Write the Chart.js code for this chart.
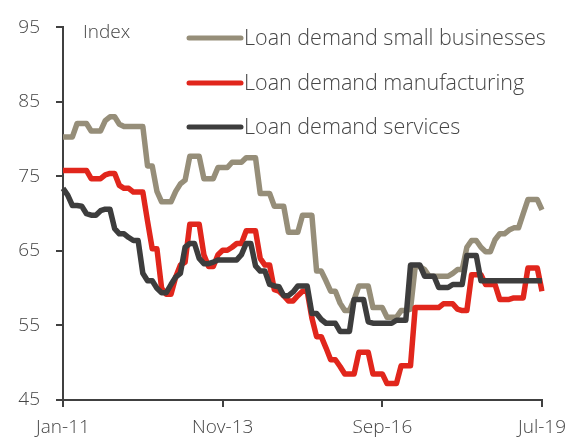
<!DOCTYPE html>
<html>
<head>
<meta charset="utf-8">
<script src="https://cdn.jsdelivr.net/npm/chart.js@4.4.1/dist/chart.umd.min.js"></script>
<style>
  body { margin: 0; background: #fff; }
  #wrap { width: 575px; height: 438px; position: relative; }
</style>
</head>
<body>
<div id="wrap"><canvas id="loanchart"></canvas></div>
<script>
// monthly index values, Jan-11 .. Jul-19
var smallBiz = [
  80.3, 80.3, 80.3, 82.1, 82.1, 82.1, 81.1, 81.1, 81.1, 82.5, 83.0, 83.0,
  82.0, 81.7, 81.7, 81.7, 81.7, 81.7, 76.4, 76.4, 73.0, 71.6, 71.6, 71.6,
  73.0, 74.0, 74.5, 77.7, 77.7, 77.7, 74.7, 74.7, 74.7, 76.2, 76.2, 76.2,
  76.9, 76.9, 76.9, 77.5, 77.5, 77.5, 72.7, 72.7, 72.7, 71.0, 71.0, 71.0,
  67.5, 67.5, 67.5, 69.8, 69.8, 69.8, 62.3, 62.3, 61.0, 59.6, 59.6, 58.0,
  57.0, 57.0, 58.5, 60.3, 60.3, 60.3, 57.4, 57.4, 57.4, 56.1, 56.1, 56.1,
  57.0, 57.0, 57.2, 62.9, 62.9, 62.5, 61.6, 61.6, 61.6, 61.6, 61.6, 62.0,
  62.5, 62.5, 65.5, 66.4, 66.4, 65.5, 64.9, 64.9, 66.5, 67.3, 67.3, 67.8,
  68.1, 68.1, 70.0, 71.9, 71.9, 71.9, 70.5
];
var manufacturing = [
  75.8, 75.8, 75.8, 75.8, 75.8, 75.8, 74.7, 74.7, 74.7, 75.2, 75.4, 75.4,
  73.8, 73.4, 73.4, 72.9, 72.9, 72.9, 69.0, 65.3, 65.3, 60.0, 59.2, 59.2,
  61.5, 63.1, 63.5, 68.6, 68.6, 68.6, 64.5, 62.9, 62.9, 64.5, 65.1, 65.1,
  65.5, 66.0, 66.0, 67.7, 67.7, 67.7, 64.0, 63.1, 63.1, 59.8, 59.6, 59.0,
  58.3, 58.3, 59.0, 59.6, 59.6, 56.0, 53.5, 53.5, 52.0, 50.4, 50.4, 49.5,
  48.5, 48.5, 48.5, 51.4, 51.4, 51.4, 48.5, 48.5, 48.5, 47.2, 47.2, 47.2,
  49.6, 49.6, 49.6, 57.4, 57.4, 57.4, 57.4, 57.4, 57.4, 57.9, 57.9, 57.9,
  57.2, 57.0, 57.0, 61.8, 61.8, 61.8, 60.5, 60.5, 60.5, 58.5, 58.5, 58.5,
  58.7, 58.7, 58.7, 62.7, 62.7, 62.7, 59.6
];
var services = [
  73.4, 72.5, 71.1, 71.1, 71.0, 70.0, 69.8, 69.8, 70.4, 70.6, 70.6, 68.0,
  67.3, 67.3, 66.8, 66.4, 66.4, 62.0, 61.0, 61.0, 60.0, 59.4, 59.4, 60.5,
  61.5, 62.0, 65.5, 66.0, 66.0, 64.0, 63.3, 63.3, 63.5, 63.8, 63.8, 63.8,
  63.8, 63.8, 64.5, 66.0, 66.0, 63.0, 62.3, 62.3, 60.5, 60.3, 60.2, 59.0,
  59.0, 59.5, 60.3, 60.3, 60.3, 56.6, 56.6, 55.8, 55.3, 55.3, 55.3, 54.2,
  54.2, 54.2, 58.5, 58.5, 58.5, 55.5, 55.3, 55.3, 55.3, 55.3, 55.3, 55.7,
  55.7, 55.7, 63.1, 63.1, 63.1, 61.6, 61.6, 61.6, 60.1, 60.1, 60.1, 60.5,
  60.5, 60.5, 64.4, 64.4, 64.4, 61.0, 61.0, 61.0, 61.0, 61.0, 61.0, 61.0,
  61.0, 61.0, 61.0, 61.0, 61.0, 61.0, 61.0
];
var seriesNames = ['Loan demand small businesses', 'Loan demand manufacturing', 'Loan demand services'];
var tickMonths = ['Jan-11', 'Nov-13', 'Sep-16', 'Jul-19'];
var yTicks = [45, 55, 65, 75, 85, 95];

var monthNames = ['Jan','Feb','Mar','Apr','May','Jun','Jul','Aug','Sep','Oct','Nov','Dec'];
var labels = [];
for (var i = 0; i < smallBiz.length; i++) {
  labels.push(monthNames[i % 12] + '-' + (11 + Math.floor(i / 12)));
}

var FONT = "'Open Sans', 'DejaVu Sans', sans-serif";
var TEXT = '#464646';
var AXIS = '#404040';

// legend + unit label drawn inside the plot area
var insideLegend = {
  id: 'insideLegend',
  afterDraw: function(chart) {
    var c = chart.ctx;
    c.save();
    c.font = '300 19px ' + FONT;
    c.fillStyle = TEXT;
    c.textBaseline = 'middle';
    c.fillText('Index', 83, 33);
    var rows = [38, 83, 127];
    chart.data.datasets.forEach(function(ds, k) {
      c.strokeStyle = ds.borderColor;
      c.lineWidth = 5;
      c.lineCap = 'round';
      c.beginPath();
      c.moveTo(189, rows[k]);
      c.lineTo(241, rows[k]);
      c.stroke();
      c.font = '300 21.5px ' + FONT;
      c.fillStyle = TEXT;
      c.fillText(ds.label, 244, rows[k] + 1);
    });
    c.restore();
  }
};

var ctx = document.getElementById('loanchart').getContext('2d');
var loanchart = new Chart(ctx, {
  type: 'line',
  data: {
    labels: labels,
    datasets: [{
      label: seriesNames[0],
      data: smallBiz,
      borderColor: '#968e79',
      order: 3
    }, {
      label: seriesNames[1],
      data: manufacturing,
      borderColor: '#e1261c',
      order: 2
    }, {
      label: seriesNames[2],
      data: services,
      borderColor: '#3d3d3d',
      order: 1
    }]
  },
  options: {
    responsive: true,
    maintainAspectRatio: false,
    animation: false,
    layout: { padding: { top: 20, right: 30, left: 0, bottom: 0 } },
    elements: {
      point: { radius: 0 },
      line: { borderWidth: 5.5, tension: 0, fill: false, borderJoinStyle: 'round', borderCapStyle: 'butt' }
    },
    plugins: {
      legend: { display: false },
      tooltip: { enabled: false }
    },
    scales: {
      x: {
        type: 'category',
        offset: false,
        afterBuildTicks: function(axis) {
          axis.ticks = axis.ticks.filter(function(t) {
            return tickMonths.indexOf(labels[t.value]) >= 0;
          });
        },
        afterFit: function(axis) { axis.height = 38; },
        border: { color: AXIS, width: 2 },
        grid: { drawOnChartArea: false, tickLength: 7, color: AXIS, lineWidth: 2 },
        ticks: {
          autoSkip: false, maxRotation: 0, padding: 9,
          color: TEXT, font: { family: FONT, size: 19, weight: '300' }
        }
      },
      y: {
        min: yTicks[0],
        max: yTicks[yTicks.length - 1],
        afterBuildTicks: function(axis) {
          axis.ticks = yTicks.map(function(v) { return { value: v }; });
        },
        afterFit: function(axis) { axis.width = 63; },
        border: { color: AXIS, width: 2 },
        grid: { drawOnChartArea: false, tickLength: 7, color: AXIS, lineWidth: 2 },
        ticks: {
          padding: 16,
          color: TEXT, font: { family: FONT, size: 19, weight: '300' }
        }
      }
    }
  },
  plugins: [insideLegend]
});
</script>
</body>
</html>
